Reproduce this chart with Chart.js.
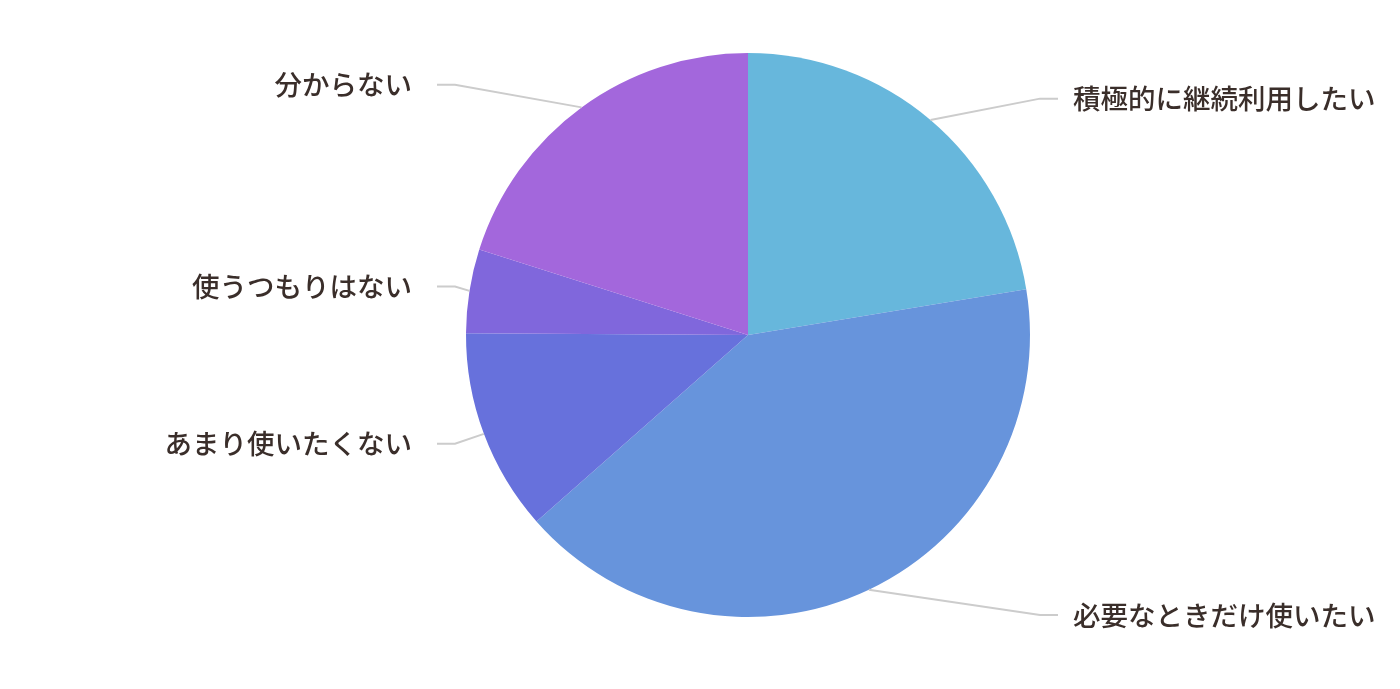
<!DOCTYPE html>
<html>
<head>
<meta charset="utf-8">
<script src="https://cdn.jsdelivr.net/npm/chart.js@4/dist/chart.umd.min.js"></script>
<style>
  html, body { margin: 0; padding: 0; background: #fff; }
  #wrap { width: 1400px; height: 689px; }
</style>
</head>
<body>
<div id="wrap"><canvas id="pieChart"></canvas></div>
<script>
const labels = ['積極的に継続利用したい', '必要なときだけ使いたい', 'あまり使いたくない', '使うつもりはない', '分からない'];
const values = [22.4, 41.1, 11.6, 4.8, 20.1];
const colors = ['#67B7DC', '#6794DC', '#6771DC', '#8067DC', '#A367DC'];

// draws the outside labels with leader lines
const outsideLabels = {
    id: 'outsideLabels',
    afterDatasetsDraw(chart) {
        const ctx = chart.ctx;
        const arcs = chart.getDatasetMeta(0).data;
        ctx.save();
        ctx.font = '500 27.5px "Noto Sans CJK JP", sans-serif';
        ctx.textBaseline = 'middle';
        arcs.forEach(function (arc, i) {
            const mid = (arc.startAngle + arc.endAngle) / 2;
            const r = arc.outerRadius;
            const cx = arc.x, cy = arc.y;
            const ex = cx + Math.cos(mid) * r;
            const ey = cy + Math.sin(mid) * r;
            const ly = cy + Math.sin(mid) * (r + 28);
            const right = Math.cos(mid) >= 0;
            const elbowX = right ? cx + r + 10 : cx - r - 11;
            const endX = right ? elbowX + 18 : elbowX - 18;

            ctx.strokeStyle = '#cccccc';
            ctx.lineWidth = 2;
            ctx.beginPath();
            ctx.moveTo(ex, ey);
            ctx.lineTo(elbowX, ly);
            ctx.lineTo(endX, ly);
            ctx.stroke();

            ctx.fillStyle = '#3a2e2a';
            ctx.textAlign = right ? 'left' : 'right';
            ctx.fillText(chart.data.labels[i], right ? endX + 15 : endX - 25, ly);
        });
        ctx.restore();
    }
};

const ctxPie = document.getElementById('pieChart').getContext('2d');
new Chart(ctxPie, {
    type: 'pie',
    data: {
        labels: labels,
        datasets: [{
            data: values,
            backgroundColor: colors,
            borderWidth: 0
        }]
    },
    options: {
        responsive: true,
        maintainAspectRatio: false,
        animation: false,
        layout: {
            padding: { top: 53, bottom: 72, left: 466, right: 370 }
        },
        plugins: {
            legend: { display: false },
            tooltip: { enabled: false }
        }
    },
    plugins: [outsideLabels]
});
</script>
</body>
</html>
